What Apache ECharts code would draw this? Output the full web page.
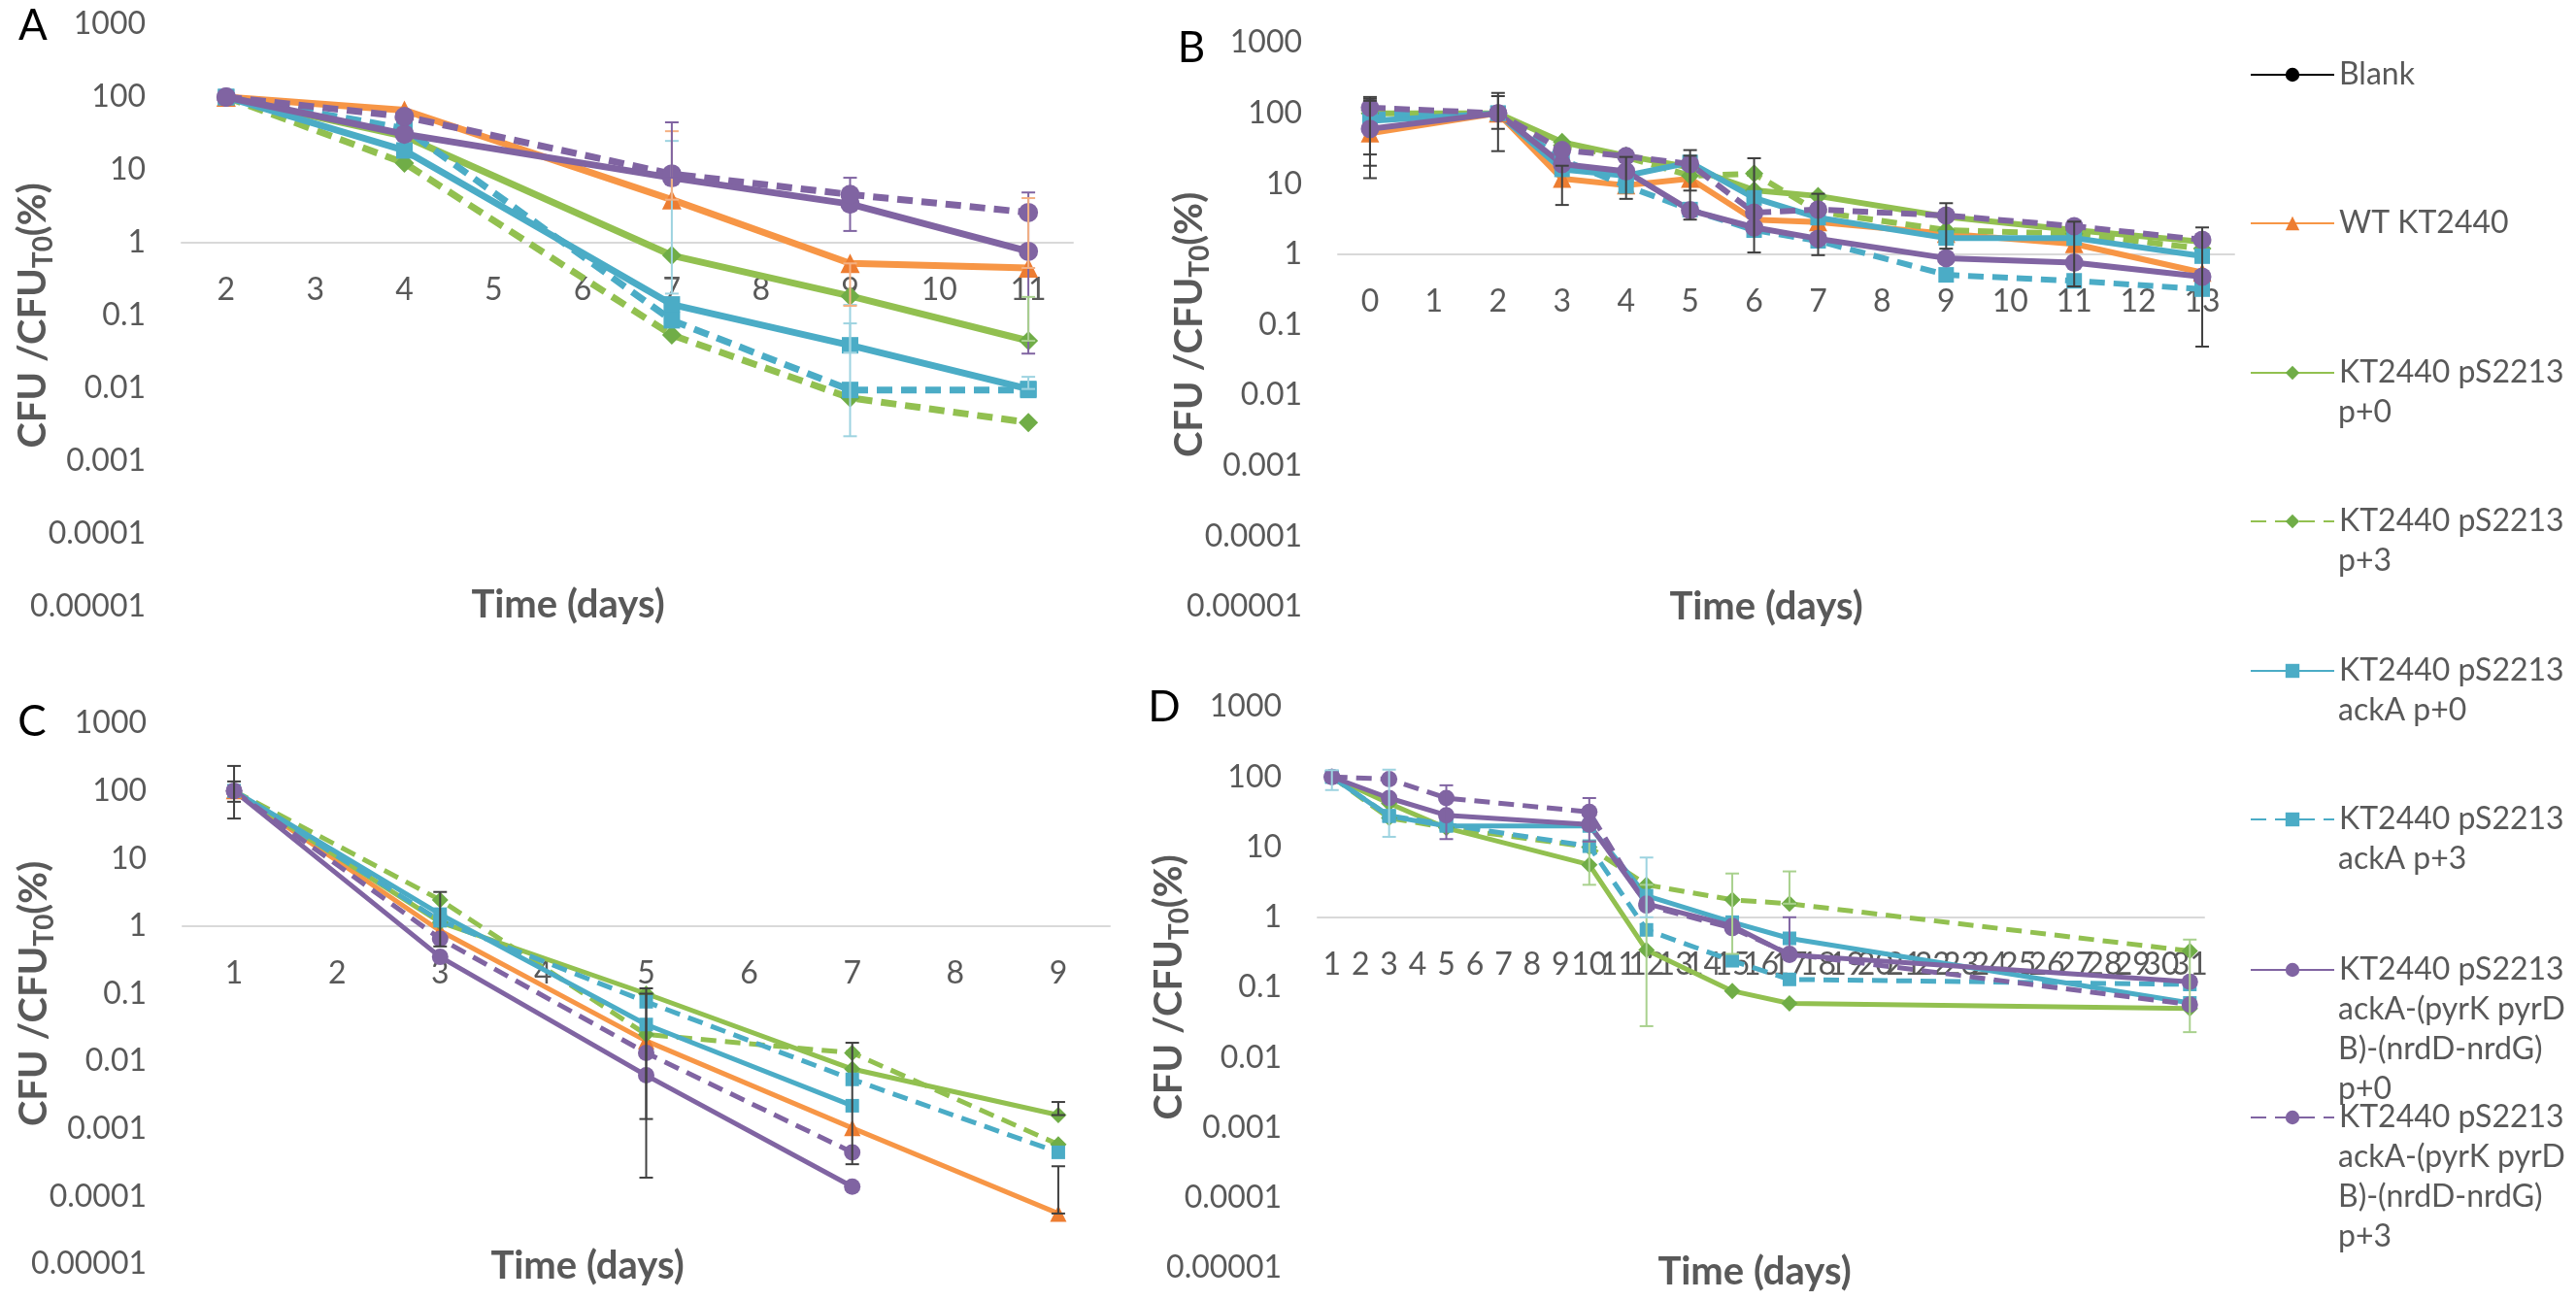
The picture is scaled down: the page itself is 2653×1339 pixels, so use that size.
<!DOCTYPE html>
<html lang="en">
<head>
  <meta charset="UTF-8">
  <title>CFU / CFU T0 survival</title>
  <script src="https://cdn.jsdelivr.net/npm/echarts@6.0.0/dist/echarts.min.js"></script>
  <style>
    html, body { margin: 0; padding: 0; background: #ffffff; overflow: hidden; }
    #chart { width: 2653px; height: 1339px; }
  </style>
</head>
<body>
  <div id="chart"></div>
  <script>
    // names, in legend order (Blank has no data)
    const seriesNames = [
      'WT KT2440',
      'KT2440 pS2213 p+0',
      'KT2440 pS2213 p+3',
      'KT2440 pS2213 ackA p+0',
      'KT2440 pS2213 ackA p+3',
      'KT2440 pS2213 ackA-(pyrK pyrD B)-(nrdD-nrdG) p+0',
      'KT2440 pS2213 ackA-(pyrK pyrD B)-(nrdD-nrdG) p+3'
    ];
    const legendText = [
      ['Blank'],
      ['WT KT2440'],
      ['KT2440 pS2213', 'p+0'],
      ['KT2440 pS2213', 'p+3'],
      ['KT2440 pS2213', 'ackA p+0'],
      ['KT2440 pS2213', 'ackA p+3'],
      ['KT2440 pS2213', 'ackA-(pyrK pyrD', 'B)-(nrdD-nrdG)', 'p+0'],
      ['KT2440 pS2213', 'ackA-(pyrK pyrD', 'B)-(nrdD-nrdG)', 'p+3']
    ];
    const yTickLabels = ['0.00001', '0.0001', '0.001', '0.01', '0.1', '1', '10', '100', '1000'];
    const panelLetters = ['A', 'B', 'C', 'D'];

    // panel A
    const daysA = ['2', '3', '4', '5', '6', '7', '8', '9', '10', '11'];
    const sampleA = [2, 4, 7, 9, 11];
    const wtA = [100, 66, 3.9, 0.52, 0.45];
    const p0A = [100, 29, 0.67, 0.185, 0.045];
    const p3A = [100, 12.4, 0.054, 0.0074, 0.0034];
    const ack0A = [100, 18.5, 0.142, 0.039, 0.0098];
    const ack3A = [100, 37, 0.086, 0.0095, 0.0095];
    const pyr0A = [100, 31, 7.8, 3.4, 0.76];
    const pyr3A = [100, 54, 8.8, 4.6, 2.6];
    // error bars: [day, low, high, series index (-1 = grey)]
    const errA = [
      [7, 0.2, 25, 3], [7, 3.9, 34, 0], [7, 7.8, 45, 5],
      [9, 1.45, 7.8, 5], [9, 0.0022, 0.14, 4], [9, 0.031, 0.078, 3], [9, 0.136, 0.52, 0],
      [11, 0.03, 4.9, 5], [11, 0.45, 4.1, 0], [11, 0.0098, 0.0144, 3], [11, 0.045, 0.18, 1]
    ];

    // panel B
    const daysB = ['0', '1', '2', '3', '4', '5', '6', '7', '8', '9', '10', '11', '12', '13'];
    const sampleB = [0, 2, 3, 4, 5, 6, 7, 9, 11, 13];
    const wtB = [52, 100, 11.8, 9.5, 11.8, 3.1, 2.85, 1.95, 1.4, 0.55];
    const p0B = [100, 100, 39, 25, 17, 8.1, 6.7, 3.4, 2.2, 1.5];
    const p3B = [110, 100, 35, 24, 13, 13.9, 4, 2.2, 1.95, 1.2];
    const ack0B = [78, 100, 16, 13, 20, 6.3, 3.3, 1.7, 1.7, 0.94];
    const ack3B = [95, 100, 22, 9.3, 4.3, 2.2, 1.55, 0.51, 0.42, 0.32];
    const pyr0B = [60, 100, 19, 15, 4.2, 2.4, 1.66, 0.88, 0.76, 0.48];
    const pyr3B = [120, 100, 30, 24.6, 19, 3.9, 4.3, 3.55, 2.5, 1.6];
    const errB = [
      [0, 12, 170, -1], [0, 18, 150, -1], [0, 26, 160, -1],
      [2, 29, 194, -1], [2, 60, 175, -1], [3, 5, 18, -1], [4, 6.1, 24, -1],
      [5, 3.1, 30, -1], [5, 8, 25, -1], [6, 1.06, 23, -1], [7, 0.97, 7.2, -1],
      [9, 1.2, 5.3, -1], [11, 0.35, 2.9, -1], [13, 0.049, 2.4, -1]
    ];

    // panel C
    const daysC = ['1', '2', '3', '4', '5', '6', '7', '8', '9'];
    const sampleC = [1, 3, 5, 7, 9];
    const wtC = [100, 0.85, 0.02, 0.00103, 0.000056];
    const p0C = [100, 1.14, 0.1, 0.0077, 0.0016];
    const p3C = [100, 2.44, 0.025, 0.0133, 0.00059];
    const ack0C = [100, 1.5, 0.035, 0.0022, null];
    const ack3C = [100, 1.2, 0.076, 0.0054, 0.00045];
    const pyr0C = [100, 0.35, 0.0062, 0.00014, null];
    const pyr3C = [100, 0.65, 0.0133, 0.00045, null];
    const errC = [
      [1, 39, 234, -1], [1, 69, 138, -1], [3, 0.5, 3.2, -1],
      [5, 0.00019, 0.12, -1], [5, 0.0014, 0.1, -1], [7, 0.0003, 0.0188, -1],
      [9, 0.0016, 0.0025, -1], [9, 0.000056, 0.00028, -1]
    ];

    // panel D
    const daysD = Array.from({ length: 31 }, (_, i) => String(i + 1));
    const sampleD = [1, 3, 5, 10, 12, 15, 17, 31];
    const wtD = [];
    const p0D = [100, 42, 18.7, 5.6, 0.34, 0.089, 0.059, 0.05];
    const p3D = [100, 26, 19, 10, 2.9, 1.77, 1.56, 0.33];
    const ack0D = [100, 27.6, 20, 20, 2.03, 0.85, 0.5, 0.06];
    const ack3D = [100, 28, 21, 10.3, 0.66, 0.24, 0.13, 0.11];
    const pyr0D = [100, 50, 28.5, 21, 1.56, 0.75, 0.29, 0.12];
    const pyr3D = [100, 93, 50, 31.7, 1.47, 0.7, 0.3, 0.057];
    const errD = [
      [1, 65, 125, 3], [3, 14, 127, 3], [5, 13, 76, 6],
      [10, 2.9, 12, 1], [10, 12, 50, 5], [12, 0.028, 2.9, 1], [12, 1.0, 7.1, 3],
      [15, 0.3, 4.2, 2], [17, 1.56, 4.5, 2], [17, 0.29, 1.0, 5], [31, 0.023, 0.48, 2]
    ];

    const panels = [
      { days: daysA, sample: sampleA, values: [wtA, p0A, p3A, ack0A, ack3A, pyr0A, pyr3A], err: errA },
      { days: daysB, sample: sampleB, values: [wtB, p0B, p3B, ack0B, ack3B, pyr0B, pyr3B], err: errB },
      { days: daysC, sample: sampleC, values: [wtC, p0C, p3C, ack0C, ack3C, pyr0C, pyr3C], err: errC },
      { days: daysD, sample: sampleD, values: [wtD, p0D, p3D, ack0D, ack3D, pyr0D, pyr3D], err: errD }
    ];

    // layout
    const FONT = 'Lato, "Open Sans", sans-serif';
    const GREY = '#595959';
    const grids = [
      { left: 187, top: 25, width: 918, height: 600 },
      { left: 1378, top: 44, width: 923, height: 581 },
      { left: 188, top: 745, width: 955, height: 557 },
      { left: 1357, top: 728, width: 913, height: 578 }
    ];
    const letterPos = [[34, 27], [1227, 50], [33, 744], [1199, 729]];
    const timePos = [[585, 623], [1819, 625], [605, 1304], [1807, 1310]];
    const lineWidths = [7, 6, 5, 5];
    const markerSizes = [20, 19, 17, 17];
    const legendY = [77, 230, 384, 537, 691, 844, 999, 1151];
    const LH = 41;
    const LEGEND_X = 2317;
    const LEGEND_ICON_W = 86;

    const lineColors = ['#F79646', '#92C050', '#92C050', '#4BACC6', '#4BACC6', '#8064A2', '#8064A2'];
    const markerColors = ['#ED7D31', '#70AD47', '#70AD47', '#4BACC6', '#4BACC6', '#8064A2', '#8064A2'];
    const errColors = ['#F4B183', '#A9D18E', '#A9D18E', '#9DD3E0', '#9DD3E0', '#8064A2', '#8064A2'];
    const symbols = ['triangle', 'diamond', 'diamond', 'rect', 'rect', 'circle', 'circle'];
    const dashed = [false, false, true, false, true, false, true];

    const xAxes = [];
    const yAxes = [];
    const series = [];
    const titles = [];

    panels.forEach((p, k) => {
      const g = grids[k];
      xAxes.push({
        type: 'category',
        gridIndex: k,
        data: p.days,
        position: 'bottom',
        offset: -g.height * 5 / 8,   // axis line sits on the 1 % level
        boundaryGap: true,
        axisLine: { show: true, onZero: false, lineStyle: { color: '#d9d9d9', width: 2 } },
        axisTick: { show: false },
        splitLine: { show: false },
        axisLabel: { interval: 0, margin: 33, fontSize: 32, color: GREY, fontFamily: FONT }
      });
      yAxes.push({
        type: 'log',
        logBase: 10,
        gridIndex: k,
        min: 0.00001,
        max: 1000,
        splitNumber: 8,
        axisLine: { show: false },
        axisTick: { show: false },
        splitLine: { show: false },
        axisLabel: {
          margin: 37, fontSize: 32, color: GREY, fontFamily: FONT,
          formatter: v => yTickLabels[Math.round(Math.log10(v)) + 5]
        },
        name: '{b|CFU /CFU}{s|T0}{b|(%)}',
        nameLocation: 'middle',
        nameRotate: 90,
        nameGap: 128,
        nameMoveOverlap: false,
        nameTextStyle: {
          rich: {
            b: { fontSize: 40, fontWeight: 'bold', color: GREY, fontFamily: FONT, lineHeight: 50 },
            s: { fontSize: 28, fontWeight: 'bold', color: GREY, fontFamily: FONT, verticalAlign: 'bottom', lineHeight: 50, padding: [16, 0, 0, 0] }
          }
        }
      });

      p.values.forEach((vals, i) => {
        const data = p.sample.map((d, j) => [String(d), vals[j]]).filter(v => v[1] != null);
        series.push({
          type: 'line',
          name: seriesNames[i],
          xAxisIndex: k,
          yAxisIndex: k,
          data: data,
          symbol: symbols[i],
          symbolSize: symbols[i] === 'rect' ? markerSizes[k] - 3 : markerSizes[k],
          showAllSymbol: true,
          connectNulls: true,
          z: 4,
          lineStyle: { color: lineColors[i], width: lineWidths[k], type: dashed[i] ? [16, 9] : 'solid', cap: 'butt' },
          itemStyle: { color: markerColors[i], borderWidth: 0 },
          emphasis: { disabled: true }
        });
      });

      series.push({
        type: 'custom',
        name: 'err' + k,
        xAxisIndex: k,
        yAxisIndex: k,
        silent: true,
        z: 5,
        data: p.err.map(e => [String(e[0]), e[1], e[2], e[3]]),
        encode: { x: 0, y: [1, 2] },
        renderItem: (params, api) => {
          const lo = api.coord([api.value(0), api.value(1)]);
          const hi = api.coord([api.value(0), api.value(2)]);
          const idx = api.value(3);
          const col = idx < 0 ? '#404040' : errColors[idx];
          const w = 7;
          const st = { stroke: col, lineWidth: 2 };
          return {
            type: 'group',
            children: [
              { type: 'line', shape: { x1: lo[0], y1: lo[1], x2: hi[0], y2: hi[1] }, style: st },
              { type: 'line', shape: { x1: lo[0] - w, y1: lo[1], x2: lo[0] + w, y2: lo[1] }, style: st },
              { type: 'line', shape: { x1: hi[0] - w, y1: hi[1], x2: hi[0] + w, y2: hi[1] }, style: st }
            ]
          };
        }
      });

      titles.push({
        text: panelLetters[k], left: letterPos[k][0], top: letterPos[k][1], padding: 0,
        textAlign: 'center', textVerticalAlign: 'middle',
        textStyle: { fontSize: 44, fontWeight: 'normal', color: '#000000', fontFamily: FONT }
      });
      titles.push({
        text: 'Time (days)', left: timePos[k][0], top: timePos[k][1], padding: 0,
        textAlign: 'center', textVerticalAlign: 'middle',
        textStyle: { fontSize: 40, fontWeight: 'bold', color: GREY, fontFamily: FONT }
      });
    });

    // Blank entry: black line, no points
    series.push({
      type: 'line', name: 'Blank', xAxisIndex: 0, yAxisIndex: 0, data: [],
      symbol: 'circle', symbolSize: 13,
      lineStyle: { color: '#000000', width: 5 }, itemStyle: { color: '#000000' }
    });

    // one legend per entry (first text line next to the marker),
    // wrapped continuation lines are plain text below it
    const legendNames = ['Blank'].concat(seriesNames);
    const legends = legendNames.map((name, i) => {
      const lines = legendText[i];
      if (lines.length > 1) {
        titles.push({
          text: lines.slice(1).join('\n'),
          left: LEGEND_X + LEGEND_ICON_W + 5,
          top: legendY[i] + LH / 2,
          padding: 0,
          textStyle: { fontSize: 32, fontWeight: 'normal', color: GREY, fontFamily: FONT, lineHeight: LH }
        });
      }
      return {
        data: [name],
        orient: 'vertical',
        left: LEGEND_X,
        top: legendY[i] - LH / 2,
        padding: 0,
        itemWidth: LEGEND_ICON_W,
        itemHeight: 18,
        selectedMode: false,
        formatter: () => lines[0],
        textStyle: { fontSize: 32, color: GREY, fontFamily: FONT, lineHeight: LH }
      };
    });

    const chart = echarts.init(document.getElementById('chart'));
    chart.setOption({
      animation: false,
      backgroundColor: '#ffffff',
      title: titles,
      legend: legends,
      grid: grids.map(g => Object.assign({ outerBoundsMode: 'none', containLabel: false }, g)),
      xAxis: xAxes,
      yAxis: yAxes,
      series: series
    });
  </script>
</body>
</html>
